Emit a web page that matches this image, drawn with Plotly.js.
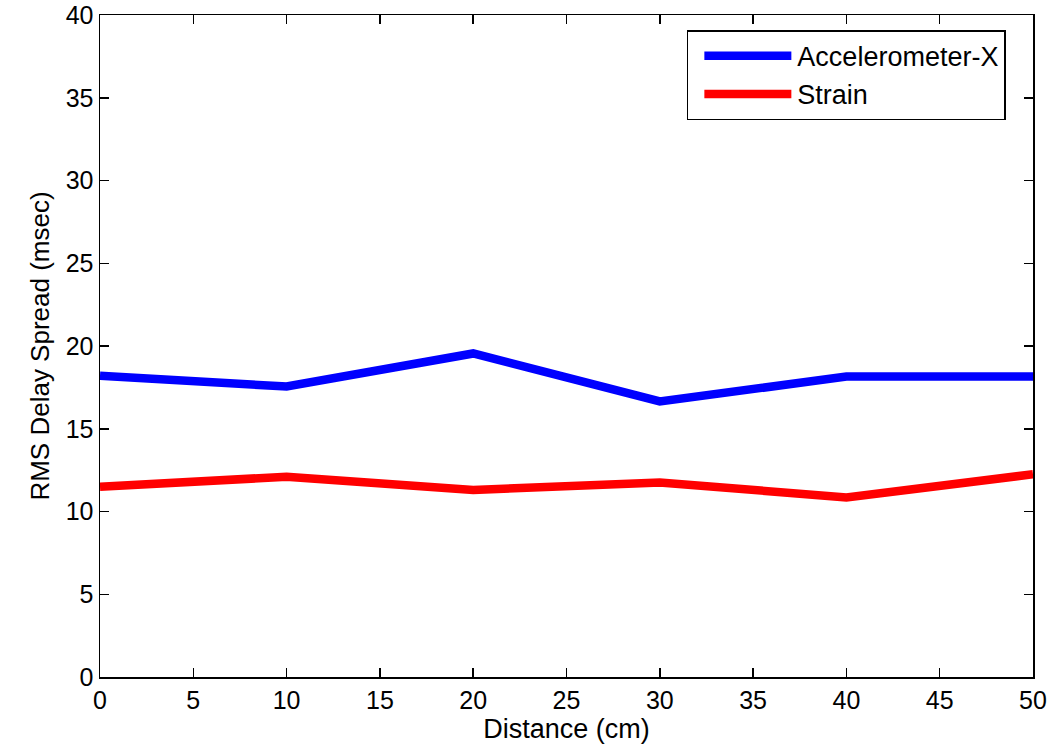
<!DOCTYPE html>
<html>
<head>
<meta charset="utf-8">
<script src="https://cdn.plot.ly/plotly-3.0.1.min.js"></script>
<style>html,body{margin:0;padding:0;background:#fff;}#chart{width:1056px;height:755px;}</style>
</head>
<body>
<div id="chart"></div>
<script>
const distance = [0, 10, 20, 30, 40, 50];
const accelX = [18.2, 17.55, 19.55, 16.65, 18.15, 18.15];
const strain = [11.5, 12.1, 11.3, 11.75, 10.85, 12.25];
const xTicks = [0, 5, 10, 15, 20, 25, 30, 35, 40, 45, 50];
const yTicks = [0, 5, 10, 15, 20, 25, 30, 35, 40];

const FONT = 'Liberation Sans, Arial, sans-serif';

const traces = [
  {x: distance, y: accelX, name: 'Accelerometer-X', mode: 'lines', line: {color: '#0000ff', width: 8.5}},
  {x: distance, y: strain, name: 'Strain', mode: 'lines', line: {color: '#ff0000', width: 8.5}}
];

const axisCommon = {
  showgrid: false, zeroline: false, showline: true, linecolor: '#000', linewidth: 1.5,
  mirror: 'ticks', ticks: 'inside', ticklen: 9, tickwidth: 1.5, tickcolor: '#000',
  tickfont: {family: FONT, size: 25, color: '#000'}
};

const layout = {
  width: 1056, height: 755,
  margin: {l: 100, r: 23, t: 15, b: 78},
  paper_bgcolor: '#fff', plot_bgcolor: '#fff',
  font: {family: FONT, color: '#000'},
  xaxis: Object.assign({}, axisCommon, {
    range: [0, 50], tickvals: xTicks, ticktext: xTicks.map(String),
    title: {text: 'Distance (cm)', font: {family: FONT, size: 27, color: '#000'}, standoff: 6}
  }),
  yaxis: Object.assign({}, axisCommon, {
    range: [0, 40], tickvals: yTicks, ticktext: yTicks.map(String),
    title: {text: 'RMS Delay Spread (msec)', font: {family: FONT, size: 26, color: '#000'}, standoff: 8}
  }),
  showlegend: true,
  legend: {
    x: 0.629, y: 0.977, xanchor: 'left', yanchor: 'top',
    bgcolor: '#fff', bordercolor: '#000', borderwidth: 1.5,
    font: {family: FONT, size: 27, color: '#000'},
    itemwidth: 99, tracegroupgap: 0
  }
};

Plotly.newPlot('chart', traces, layout, {staticPlot: true}).then(function (gd) {
  // lengthen legend line samples to match the reference
  document.querySelectorAll('.legend .legendlines path').forEach(function (p) {
    p.setAttribute('d', 'M16,0h87');
  });
});
</script>
</body>
</html>
